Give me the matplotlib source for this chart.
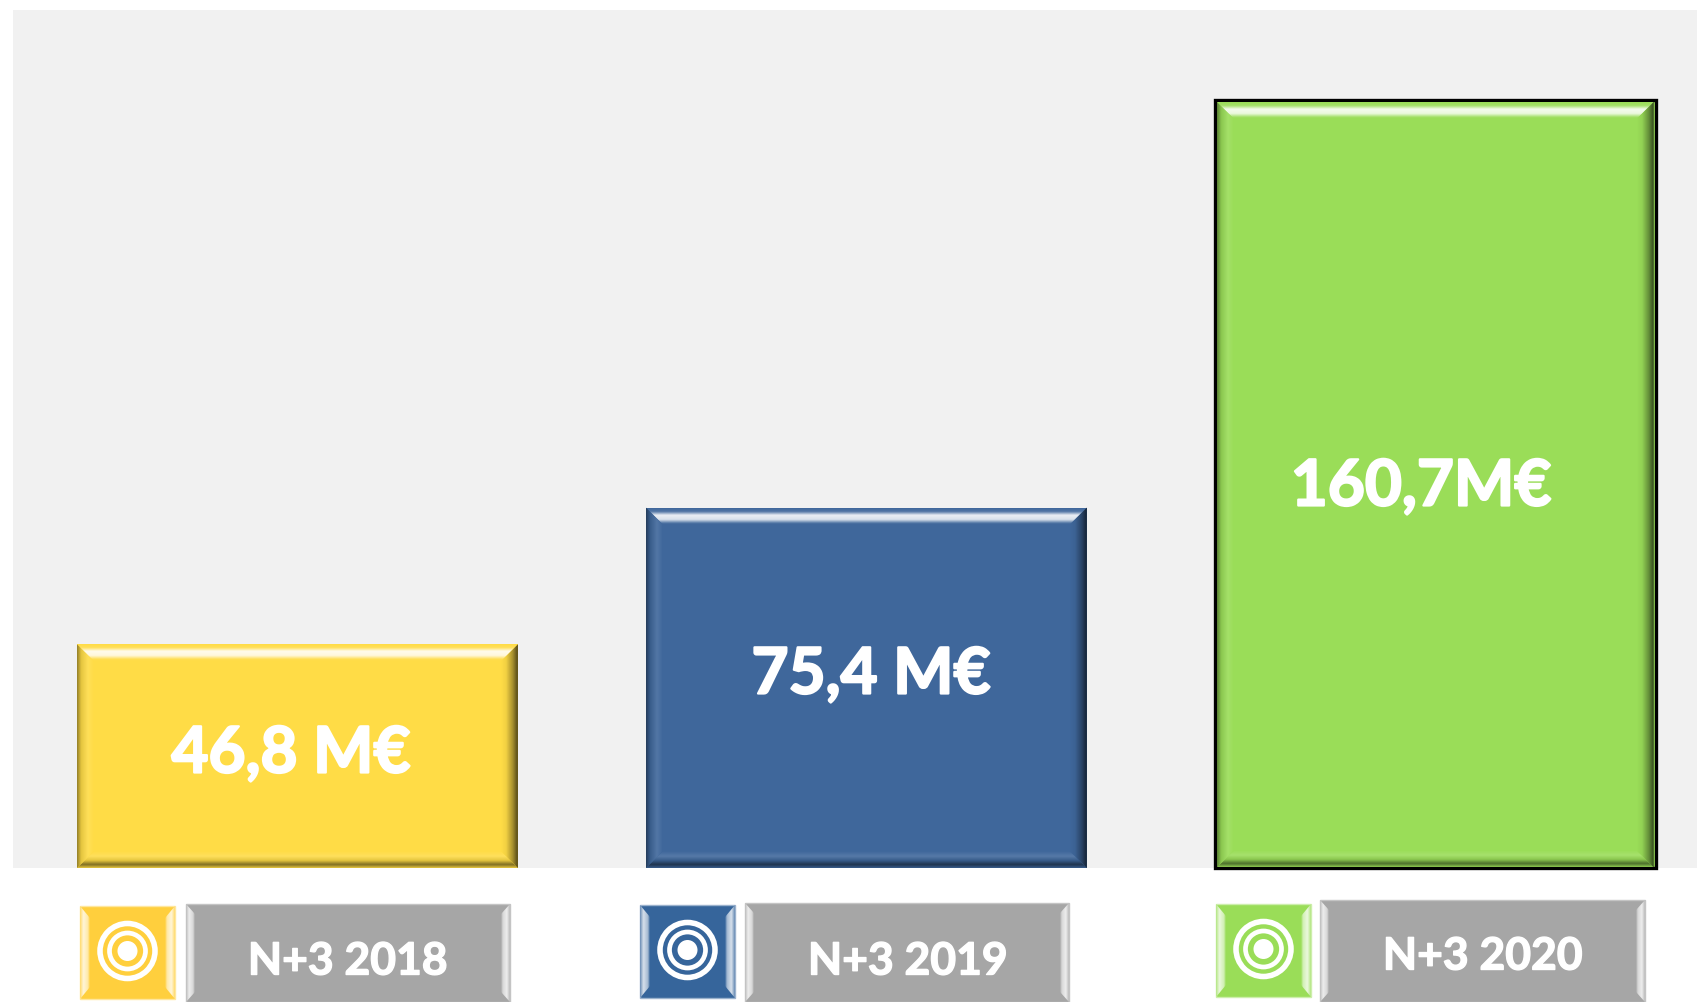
import numpy as np
import matplotlib
matplotlib.use("Agg")
import matplotlib.pyplot as plt
import matplotlib.patheffects as pe
from matplotlib.patches import Polygon, Circle, Rectangle
from matplotlib.colors import to_rgb

# ---- data ----
categories = ["N+3 2018", "N+3 2019", "N+3 2020"]
values = [46.8, 75.4, 160.7]
value_labels = ["46,8 M€", "75,4 M€", "160,7M€"]
bar_colors = ["#FFDC46", "#3F679B", "#9ADD58"]
icon_colors = ["#FFCF3D", "#36659B", "#9ADD58"]
edge_colors = ["none", "none", "#000000"]

W, H = 1697, 1002
FONT = "Lato"
fig = plt.figure(figsize=(W / 100, H / 100), dpi=100, facecolor="white")
ax = fig.add_axes([13 / W, 1 - 868 / H, (W - 13) / W, 858 / H], facecolor="#F1F1F1")
ax.set_xlim(-0.5, 2.46)
ax.set_ylim(0, 179.5)
for s in ax.spines.values():
    s.set_visible(False)
ax.set_xticks([])
ax.set_yticks([])

bars = ax.bar(range(3), values, width=0.775, color=bar_colors,
              edgecolor=edge_colors, linewidth=2.4, clip_on=False)

ov = fig.add_axes([0, 0, 1, 1], facecolor="none")
ov.axis("off")


def mix(c, t):
    c = np.array(to_rgb(c))
    return c + (1 - c) * t if t >= 0 else c * (1 + t)


def grad(stops, base, horizontal, reverse=False, n=64):
    p = np.array([s[0] for s in stops])
    cols = np.array([mix(base, s[1]) for s in stops])
    t = np.linspace(0, 1, n)
    arr = np.stack([np.interp(t, p, cols[:, i]) for i in range(3)], axis=-1)
    if reverse:
        arr = arr[::-1]
    return arr[None, :, :] if horizontal else arr[:, None, :]


def face(poly, extent, img):
    im = ov.imshow(img, extent=extent, aspect="auto", interpolation="bilinear", zorder=3)
    clip = Polygon(poly, closed=True, transform=ov.transData)
    im.set_clip_path(clip)


def bevel(x0, y0, x1, y1, base, bx, by, top, bottom, left, right):
    # each stop list runs from the outer edge to the inner edge
    if top:
        face([(x0, y0), (x1, y0), (x1 - bx, y0 + by), (x0 + bx, y0 + by)],
             (x0, x1, y0 + by, y0), grad(top, base, False))
    if bottom:
        face([(x0, y1), (x1, y1), (x1 - bx, y1 - by), (x0 + bx, y1 - by)],
             (x0, x1, y1, y1 - by), grad(bottom, base, False, reverse=True))
    if left:
        face([(x0, y0), (x0 + bx, y0 + by), (x0 + bx, y1 - by), (x0, y1)],
             (x0, x0 + bx, y1, y0), grad(left, base, True))
    if right:
        face([(x1, y0), (x1 - bx, y0 + by), (x1 - bx, y1 - by), (x1, y1)],
             (x1 - bx, x1, y1, y0), grad(right, base, True, reverse=True))


TOP = [(0, 0.0), (0.2, 0.1), (0.42, 0.9), (0.68, 0.8), (0.9, 0.05), (1, 0.0)]
BOTTOM = [(0, -0.1), (0.2, -0.5), (0.45, -0.1), (0.7, 0.12), (1, 0.0)]
LEFT = [(0, -0.42), (0.25, -0.1), (0.65, 0.1), (1, 0.0)]
RIGHT = [(0, -0.68), (0.3, -0.35), (0.7, -0.05), (1, 0.0)]
CARD_SIDE = [(0, 0.25), (0.35, 0.8), (0.8, 0.55), (1, 0.0)]

fig.canvas.draw()
for b in bars:
    e = b.get_window_extent()
    x0, x1 = e.x0, e.x1
    y0, y1 = H - e.y1, H - e.y0
    if b.get_edgecolor()[3] > 0:
        x0 += 2; x1 -= 2; y0 += 2; y1 -= 0.5
    bevel(x0, y0, x1, y1, b.get_facecolor()[:3], 17, 17, TOP, BOTTOM, LEFT, RIGHT)

# value labels
label_xy = [(291, 749), (871, 670), (1421, 482)]
for s, (x, y) in zip(value_labels, label_xy):
    t = ov.text(x, y, s, color="white", fontsize=46, fontweight="bold", family=FONT,
                ha="center", va="center_baseline", zorder=5)
    t.set_path_effects([pe.withStroke(linewidth=1.6, foreground="white")])

# legend cards
icon_boxes = [(80, 906, 175, 999), (640, 905, 735, 998), (1216, 904, 1311, 997)]
card_boxes = [(186, 904, 510, 1002), (745, 903, 1069, 1002), (1320, 900, 1645, 1002)]
card_text = [(348, 958), (908, 958), (1483, 953)]
for i, name in enumerate(categories):
    x0, y0, x1, y1 = icon_boxes[i]
    c = icon_colors[i]
    ov.add_patch(Rectangle((x0, y0), x1 - x0, y1 - y0, fc=c, ec=mix(c, 0.5), lw=1, zorder=2))
    bevel(x0, y0, x1, y1, c, 10, 12, None, None, CARD_SIDE, CARD_SIDE)
    cx, cy = (x0 + x1) / 2, (y0 + y1) / 2 - 1.5
    ov.add_patch(Circle((cx, cy), 27.5, fc="none", ec="white", lw=4.0, zorder=4))
    ov.add_patch(Circle((cx, cy), 18, fc="none", ec="white", lw=3.4, zorder=4))
    ov.add_patch(Circle((cx, cy), 10, fc="white", ec="none", zorder=4))

    x0, y0, x1, y1 = card_boxes[i]
    ov.add_patch(Rectangle((x0, y0), x1 - x0, y1 - y0, fc="#A6A6A6", ec="#C4C4C4", lw=1, zorder=2))
    bevel(x0, y0, x1, y1, "#A6A6A6", 9, 10, None, None, CARD_SIDE, CARD_SIDE)
    t = ov.text(*card_text[i], name, color="white", fontsize=32, fontweight="bold", family=FONT,
                ha="center", va="center_baseline", zorder=5)
    t.set_path_effects([pe.withStroke(linewidth=1.0, foreground="white")])

ov.set_xlim(0, W)
ov.set_ylim(H, 0)
fig.savefig("out.png", dpi=100, facecolor="white")
